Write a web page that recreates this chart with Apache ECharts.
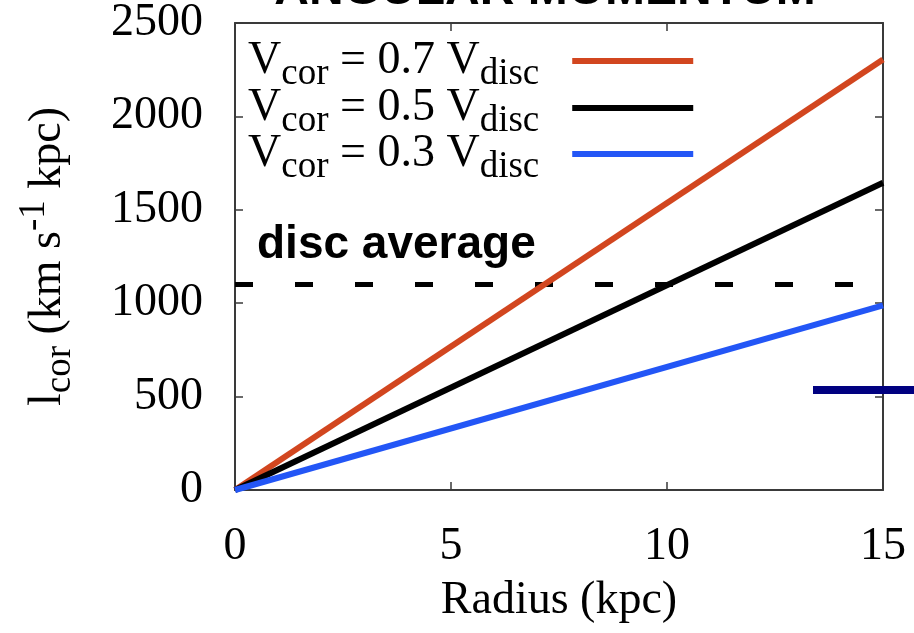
<!DOCTYPE html>
<html>
<head>
<meta charset="utf-8">
<script src="https://cdn.jsdelivr.net/npm/echarts@6/dist/echarts.min.js"></script>
<style>
  html, body { margin: 0; padding: 0; background: #fff; }
  #chart { width: 914px; height: 633px; }
</style>
</head>
<body>
<div id="chart"></div>
<script>
// radius (kpc)
const radius = [0, 15]
// l_cor for each V_cor / V_disc ratio
const lcor07 = [0, 2305]
const lcor05 = [0, 1645]
const lcor03 = [0, 988]
// disc average level
const discAverage = [1100, 1100]
const seriesNames = ['V_cor = 0.7 V_disc', 'V_cor = 0.5 V_disc', 'V_cor = 0.3 V_disc']
const xTicks = [0, 5, 10, 15]
const yTicks = [0, 500, 1000, 1500, 2000, 2500]

const serif = 'Liberation Serif, Times New Roman, serif'
const sans = 'Liberation Sans, Arial, sans-serif'
const axisColor = '#3a3a3a'

const rich = {
  m: { fontFamily: serif, fontSize: 46, lineHeight: 46, color: '#000' },
  s: { fontFamily: serif, fontSize: 37, color: '#000', padding: [26, 0, 0, 0] },
  e: { fontFamily: serif, fontSize: 37, color: '#000', padding: [26, 28, 0, 0] },
  p: { fontFamily: serif, fontSize: 37, color: '#000', padding: [0, 0, 26, 0] },
}

function legendLabel(name) {
  const k = name.match(/0\.\d/)[0]
  return '{m|V}{s|cor}{m| = ' + k + ' V}{e|disc}'
}

function makeLegend(name, top) {
  return {
    data: [name],
    left: 248,
    top: top,
    padding: 0,
    align: 'right',
    icon: 'rect',
    itemWidth: 121,
    itemHeight: 6,
    selectedMode: false,
    formatter: legendLabel,
    textStyle: { rich: rich },
  }
}

function pairs(xs, ys) {
  return xs.map((x, i) => [x, ys[i]])
}

function commonAxis(extra) {
  return Object.assign({
    type: 'value',
    axisLine: { show: true, onZero: false, lineStyle: { color: axisColor, width: 2 } },
    axisTick: { show: true, inside: true, length: 8, lineStyle: { color: axisColor, width: 1.5 } },
    splitLine: { show: false },
  }, extra)
}

const chart = echarts.init(document.getElementById('chart'))
chart.setOption({
  animation: false,
  backgroundColor: '#fff',
  grid: { left: 235, right: 31, top: 22, bottom: 143 },
  legend: [
    makeLegend(seriesNames[0], 38),
    makeLegend(seriesNames[1], 85),
    makeLegend(seriesNames[2], 131),
  ],
  xAxis: [
    commonAxis({
      min: xTicks[0], max: xTicks[xTicks.length - 1], interval: 5,
      name: 'Radius (kpc)', nameLocation: 'middle', nameGap: 88,
      nameTextStyle: { fontFamily: serif, fontSize: 46, color: '#000' },
      axisLabel: { margin: 34, fontFamily: serif, fontSize: 46, color: '#000' },
    }),
    commonAxis({
      position: 'top',
      min: xTicks[0], max: xTicks[xTicks.length - 1], interval: 5,
      axisLabel: { show: false },
    }),
  ],
  yAxis: [
    commonAxis({
      min: yTicks[0], max: yTicks[yTicks.length - 1], interval: 500,
      name: '{m|l}{s|cor}{m| (km s}{p|-1}{m| kpc)}',
      nameLocation: 'middle', nameRotate: 90, nameGap: 156,
      nameTextStyle: { rich: rich },
      axisLabel: {
        margin: 32, fontFamily: serif, fontSize: 46, color: '#000',
        formatter: (v) => String(v),
      },
    }),
    commonAxis({
      position: 'right',
      min: yTicks[0], max: yTicks[yTicks.length - 1], interval: 500,
      axisLabel: { show: false },
    }),
  ],
  series: [
    {
      name: 'disc average', type: 'line', symbol: 'none', silent: true,
      data: pairs(radius, discAverage),
      lineStyle: { color: '#000', width: 5, type: [18, 42] },
      z: 1,
    },
    {
      name: seriesNames[0], type: 'line', symbol: 'none',
      data: pairs(radius, lcor07), color: '#d2461f',
      lineStyle: { width: 6 }, z: 2,
    },
    {
      name: seriesNames[1], type: 'line', symbol: 'none',
      data: pairs(radius, lcor05), color: '#000000',
      lineStyle: { width: 6 }, z: 3,
    },
    {
      name: seriesNames[2], type: 'line', symbol: 'none',
      data: pairs(radius, lcor03), color: '#2356f6',
      lineStyle: { width: 6 }, z: 4,
    },
  ],
  graphic: [
    {
      type: 'text', left: 257, top: 222, z: 10,
      style: { text: 'disc average', font: 'bold 46px ' + sans, fill: '#000' },
    },
    {
      type: 'text', x: 545, y: -9, z: 10,
      style: {
        text: 'ANGULAR MOMENTUM', font: 'bold 48px ' + sans, fill: '#000',
        align: 'center', verticalAlign: 'middle',
      },
    },
    // stray slide mark at right edge
    {
      type: 'rect', z: 10,
      shape: { x: 813, y: 386, width: 101, height: 8 },
      style: { fill: '#000080' },
    },
  ],
})
</script>
</body>
</html>
